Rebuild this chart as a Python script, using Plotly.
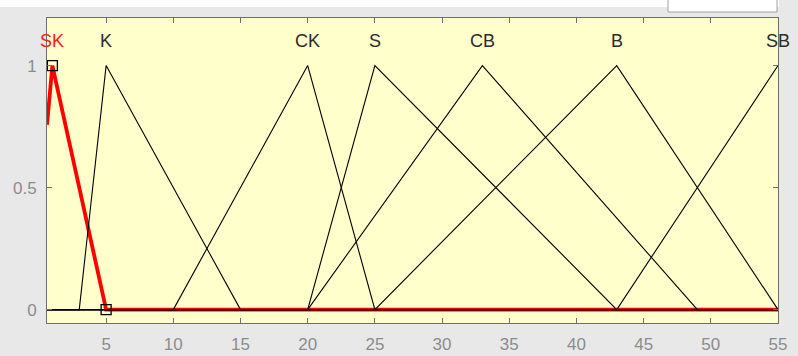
import numpy as np
import plotly.graph_objects as go

# Membership functions of the input variable (triangular, params [a, b, c])
mf_names = ["SK", "K", "CK", "S", "CB", "B", "SB"]
mf_params = [
    [-0.65, 1, 5],
    [3, 5, 15],
    [10, 20, 25],
    [20, 25, 43],
    [20, 33, 49],
    [25, 43, 55],
    [43, 55, 67],
]
selected_mf = "SK"
x_range = [0.6, 55]
y_range = [-0.055, 1.195]
x_ticks = [5, 10, 15, 20, 25, 30, 35, 40, 45, 50, 55]
y_ticks = [0, 0.5, 1]
y_tick_text = ["0", "0.5", "1"]
label_level = 1.1

W, H = 798, 356
M_L, M_R, M_T, M_B = 47, 20, 18, 33
PW, PH = W - M_L - M_R, H - M_T - M_B


def px_x(p):
    return (p - M_L) / PW


def px_y(p):
    return (H - M_B - p) / PH


def trimf(x, a, b, c):
    x = np.asarray(x, dtype=float)
    left = np.where(b > a, (x - a) / (b - a if b != a else 1), 1.0)
    right = np.where(c > b, (c - x) / (c - b if c != b else 1), 1.0)
    return np.clip(np.minimum(left, right), 0, 1)


def mf_points(p):
    xs = [x_range[0], x_range[1]] + [v for v in p if x_range[0] <= v <= x_range[1]]
    xs = np.array(sorted(set(xs)))
    return xs, trimf(xs, *p)


fig = go.Figure()

# selected function first (thick red), the others drawn over it in thin black
order = [mf_names.index(selected_mf)] + [i for i, n in enumerate(mf_names) if n != selected_mf]
for i in order:
    xs, ys = mf_points(mf_params[i])
    sel = mf_names[i] == selected_mf
    fig.add_trace(go.Scatter(
        x=xs, y=ys, mode="lines",
        line=dict(color="#ff0000" if sel else "#000000", width=3.8 if sel else 1.1),
        hoverinfo="skip", showlegend=False,
    ))

# drag handles on the selected function
sp = mf_params[mf_names.index(selected_mf)]
hx = [v for v in sp[1:] if x_range[0] <= v <= x_range[1]]
fig.add_trace(go.Scatter(
    x=hx, y=list(trimf(hx, *sp)), mode="markers",
    marker=dict(symbol="square-open", size=10, color="#000000", line=dict(width=1.3)),
    hoverinfo="skip", showlegend=False, cliponaxis=False,
))

# function names above each peak
for n, p in zip(mf_names, mf_params):
    fig.add_annotation(
        x=p[1], y=label_level, xref="x", yref="y", text=n, showarrow=False,
        font=dict(family="Liberation Sans, Arial, sans-serif", size=18,
                  color="#ff1a1a" if n == selected_mf else "#2b2b2b"),
        xanchor="center", yanchor="middle",
    )

# window strip along the top and the partial box at the top right
fig.add_shape(type="rect", xref="paper", yref="paper",
              x0=px_x(0), x1=px_x(779), y0=px_y(7), y1=px_y(0),
              fillcolor="#ffffff", line=dict(width=0), layer="below")
fig.add_shape(type="rect", xref="paper", yref="paper",
              x0=px_x(668), x1=px_x(777), y0=px_y(12), y1=px_y(-2),
              fillcolor="#ffffff", line=dict(color="#a0a0a0", width=1), layer="below")

axis_font = dict(family="Liberation Sans, Arial, sans-serif", size=17, color="#8c8c8c")
fig.update_layout(
    width=W, height=H,
    margin=dict(l=M_L, r=M_R, t=M_T, b=M_B, pad=0, autoexpand=False),
    paper_bgcolor="#e8e8e8",
    plot_bgcolor="#ffffcc",
    xaxis=dict(range=x_range, tickvals=x_ticks, ticks="inside", ticklen=5,
               tickcolor="#6e6e6e", showline=True, linecolor="#6e6e6e", linewidth=1,
               mirror="ticks", showgrid=False, zeroline=False, tickfont=axis_font,
               ticklabelstandoff=6, automargin=False),
    yaxis=dict(range=y_range, tickvals=y_ticks, ticktext=y_tick_text, ticks="inside",
               ticklen=5, tickcolor="#6e6e6e", showline=True, linecolor="#6e6e6e",
               linewidth=1, mirror="ticks", showgrid=False, zeroline=False,
               tickfont=axis_font, ticklabelstandoff=6, automargin=False),
)

fig.write_html("out.html")
